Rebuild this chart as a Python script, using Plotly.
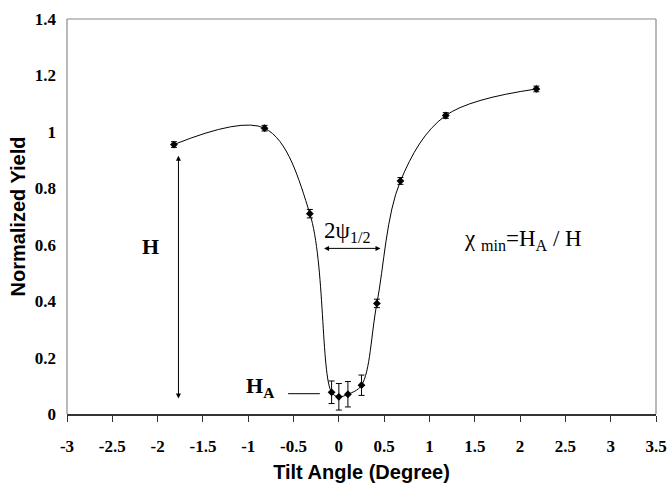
import plotly.graph_objects as go

tilt = [-1.82, -0.82, -0.32, -0.08, 0.0, 0.1, 0.25, 0.42, 0.68, 1.18, 2.18]
yield_norm = [0.955, 1.013, 0.71, 0.077, 0.061, 0.07, 0.102, 0.392, 0.826, 1.058, 1.152]
yield_err = [0.01, 0.01, 0.015, 0.04, 0.047, 0.045, 0.036, 0.015, 0.012, 0.01, 0.01]
x_ticks = [-3, -2.5, -2, -1.5, -1, -0.5, 0, 0.5, 1, 1.5, 2, 2.5, 3, 3.5]
x_tick_labels = ["-3", "-2.5", "-2", "-1.5", "-1", "-0.5", "0", "0.5", "1", "1.5", "2", "2.5", "3", "3.5"]
y_ticks = [0, 0.2, 0.4, 0.6, 0.8, 1.0, 1.2, 1.4]
y_tick_labels = ["0", "0.2", "0.4", "0.6", "0.8", "1", "1.2", "1.4"]

serif = "Liberation Serif"
sans = "Liberation Sans"

fig = go.Figure()
fig.add_trace(go.Scatter(
    x=tilt, y=yield_norm,
    mode="lines+markers",
    line=dict(color="black", width=1, shape="spline", smoothing=1.0),
    marker=dict(symbol="diamond", size=6, color="black"),
    error_y=dict(type="data", array=yield_err, color="black", thickness=1, width=3),
    showlegend=False,
))

fig.update_layout(
    width=667, height=484,
    margin=dict(l=67, r=11, t=19, b=70),
    paper_bgcolor="white", plot_bgcolor="white",
    font=dict(family=serif, size=16, color="black"),
    xaxis=dict(
        range=[-3, 3.5], tickvals=x_ticks, ticktext=["<b>" + t + "</b>" for t in x_tick_labels],
        showgrid=False, zeroline=False, automargin=False,
        showline=True, linecolor="#333333", linewidth=1.5,
        ticks="outside", ticklen=6, tickcolor="#333333", tickwidth=1,
        tickfont=dict(family=serif, size=17, color="black"),
        ticklabelstandoff=10,
        title=dict(text="<b>Tilt Angle (Degree)</b>", font=dict(family=sans, size=20, color="black"), standoff=10),
    ),
    yaxis=dict(
        range=[0, 1.4], tickvals=y_ticks, ticktext=["<b>" + t + "</b>" for t in y_tick_labels],
        showgrid=False, zeroline=False, automargin=False,
        showline=False, ticks="",
        tickfont=dict(family=serif, size=17, color="black"),
        ticklabelstandoff=10,
        title=dict(text="<b>Normalized Yield</b>", font=dict(family=sans, size=20, color="black"), standoff=3),
    ),
    shapes=[
        dict(type="line", xref="paper", yref="paper", x0=0, x1=0, y0=0, y1=1, line=dict(color="#8a8a8a", width=1.2)),
        dict(type="line", xref="paper", yref="paper", x0=0, x1=1, y0=1, y1=1, line=dict(color="#8a8a8a", width=1.2)),
        dict(type="line", xref="paper", yref="paper", x0=1, x1=1, y0=0, y1=1, line=dict(color="#8a8a8a", width=1.2)),
        dict(type="line", xref="x", yref="y", x0=-0.56, x1=-0.21, y0=0.072, y1=0.072, line=dict(color="black", width=1)),
    ],
    annotations=[
        dict(x=-1.77, y=0.915, ax=-1.77, ay=0.05, xref="x", yref="y", axref="x", ayref="y",
             text="", showarrow=True, arrowhead=2, arrowside="end+start", arrowsize=1, arrowwidth=1, arrowcolor="black"),
        dict(x=0.46, y=0.587, ax=-0.18, ay=0.587, xref="x", yref="y", axref="x", ayref="y",
             text="", showarrow=True, arrowhead=2, arrowside="end+start", arrowsize=1, arrowwidth=1, arrowcolor="black"),
        dict(x=-2.08, y=0.595, xref="x", yref="y", text="<b>H</b>", showarrow=False,
             font=dict(family=serif, size=22, color="black")),
        dict(x=-0.87, y=0.095, xref="x", yref="y", text="<b>H<sub>A</sub></b>", showarrow=False,
             font=dict(family=serif, size=22, color="black")),
        dict(x=0.09, y=0.645, xref="x", yref="y", text="2ψ<sub>1/2</sub>", showarrow=False,
             font=dict(family=serif, size=23, color="black")),
        dict(x=2.03, y=0.615, xref="x", yref="y", text="χ <sub>min</sub>=H<sub>A</sub> / H", showarrow=False,
             font=dict(family=serif, size=23, color="black")),
    ],
)

fig.write_html("out.html", config={"displayModeBar": False},
               post_script="document.body.style.margin='0';document.body.style.overflow='hidden';")
